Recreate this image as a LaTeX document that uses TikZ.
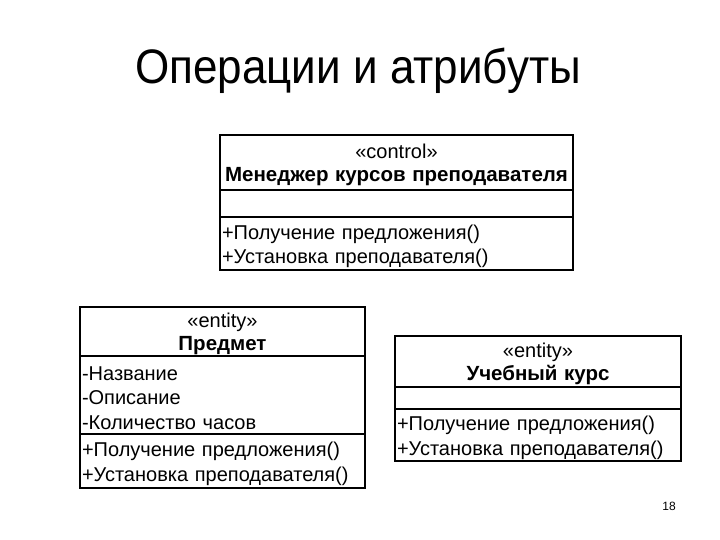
\documentclass[tikz,border=0pt]{standalone}
\usepackage{fontspec}
\setmainfont{Liberation Sans}
\usetikzlibrary{positioning}
\newcommand{\upstrut}{\rule{0pt}{20pt}}
\tikzset{
    umlhead/.style={draw, line width=1.2pt, outer sep=0pt, align=center, inner xsep=2pt, inner ysep=0pt, font=\fontsize{20}{23}\selectfont},
    umlpart/.style={draw, line width=1.2pt, outer sep=0pt, align=left, inner xsep=2pt, inner ysep=0pt, font=\fontsize{20}{24.5}\selectfont}
}

\begin{document}
\begin{tikzpicture}[x=1pt, y=-1pt]
    \useasboundingbox (0,0) rectangle (720,540);

    % Title
    \node[font=\fontsize{44}{50}\selectfont] (title) at (358,71) {\scalebox{1}[1.1]{Операции и атрибуты}};

    % Manager class
    \node[umlhead, anchor=north west, text width=349pt, minimum height=55pt] (mgr) at (220,135)
        {\upstrut«control»\\ {\fontsize{20.5}{23}\selectfont\bfseries Менеджер курсов преподавателя}};
    \node[umlpart, text width=349pt, minimum height=27pt, below=0pt of mgr] (mgrattr) {};
    \node[umlpart, text width=349pt, minimum height=53pt, below=0pt of mgrattr] (mgrops)
        {\upstrut+Получение предложения()\\+Установка преподавателя()};

    % Subject class
    \node[umlhead, anchor=north west, text width=281pt, minimum height=49pt] (subj) at (80,307)
        {\upstrut«entity»\\ {\fontsize{20.5}{23}\selectfont\bfseries Предмет}};
    \node[umlpart, text width=281pt, minimum height=78pt, below=0pt of subj] (subjattr)
        {\upstrut-Название\\-Описание\\-Количество часов};
    \node[umlpart, text width=281pt, minimum height=54pt, below=0pt of subjattr] (subjops)
        {\upstrut+Получение предложения()\\+Установка преподавателя()};

    % Course class
    \node[umlhead, anchor=north west, text width=282pt, minimum height=51pt] (course) at (395,336)
        {\upstrut«entity»\\ {\fontsize{20.5}{23}\selectfont\bfseries Учебный курс}};
    \node[umlpart, text width=282pt, minimum height=22pt, below=0pt of course] (courseattr) {};
    \node[umlpart, text width=282pt, minimum height=52pt, below=0pt of courseattr] (courseops)
        {\upstrut+Получение предложения()\\+Установка преподавателя()};

    % Page number
    \node[font=\fontsize{12}{14}\selectfont] (pagenum) at (669,506) {18};
\end{tikzpicture}
\end{document}
